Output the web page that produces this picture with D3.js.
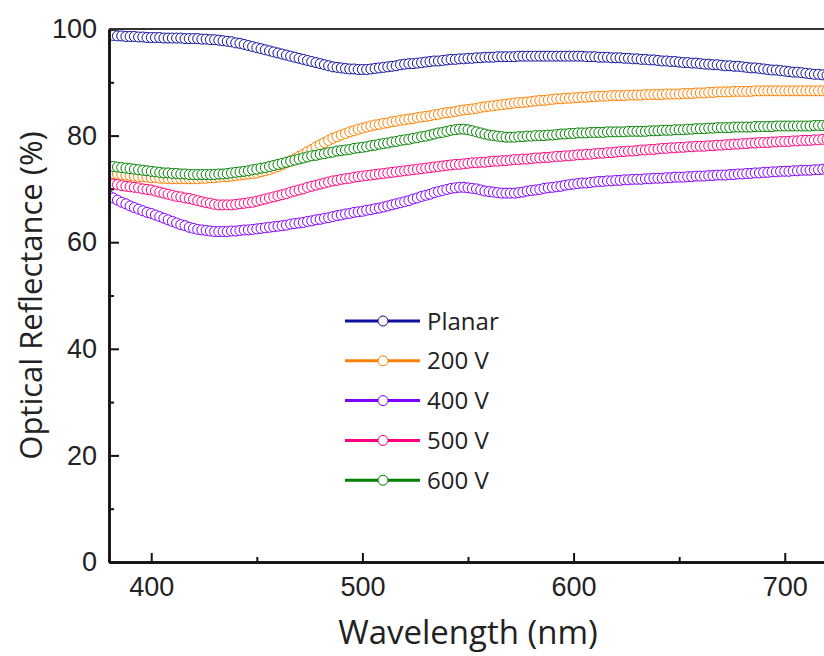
<!DOCTYPE html>
<html>
<head>
<meta charset="utf-8" />
<title>Optical Reflectance</title>
<style>
    body { margin: 0; background: #fff; }
    svg { display: block; font-family: "Open Sans", "Noto Sans", sans-serif; }
    .axis path, .axis line { stroke: #111; }
    .axis text { font-size: 27px; fill: #222; }
    .series path { fill: none; stroke-width: 1.5px; }
</style>
</head>
<body>
<div id="container"></div>
<script src="https://cdn.jsdelivr.net/npm/d3@7/dist/d3.min.js"></script>
<script>
// wavelengths: 380..720 nm every 2 nm
var wavelength = d3.range(380, 721, 2);

var planar = [
    98.8, 98.8, 98.7, 98.7, 98.6, 98.6, 98.6, 98.5, 98.5, 98.4,
    98.4, 98.4, 98.4, 98.3, 98.3, 98.3, 98.3, 98.3, 98.2, 98.2,
    98.2, 98.2, 98.1, 98.1, 98.0, 98.0, 97.9, 97.8, 97.7, 97.6,
    97.4, 97.3, 97.1, 96.9, 96.7, 96.5, 96.3, 96.1, 95.9, 95.7,
    95.5, 95.3, 95.1, 94.9, 94.7, 94.5, 94.3, 94.1, 93.9, 93.7,
    93.5, 93.3, 93.1, 92.9, 92.8, 92.7, 92.6, 92.5, 92.5, 92.4,
    92.4, 92.4, 92.5, 92.6, 92.7, 92.8, 92.9, 93.0, 93.1, 93.3,
    93.4, 93.5, 93.5, 93.6, 93.7, 93.8, 93.9, 94.0, 94.0, 94.1,
    94.2, 94.3, 94.3, 94.4, 94.4, 94.5, 94.5, 94.6, 94.6, 94.7,
    94.7, 94.7, 94.8, 94.8, 94.8, 94.8, 94.8, 94.9, 94.9, 94.9,
    94.9, 94.9, 94.9, 94.9, 94.9, 94.9, 94.9, 94.9, 94.9, 94.9,
    94.9, 94.9, 94.9, 94.8, 94.8, 94.8, 94.7, 94.7, 94.7, 94.6,
    94.6, 94.6, 94.5, 94.5, 94.4, 94.4, 94.3, 94.3, 94.2, 94.2,
    94.1, 94.0, 94.0, 93.9, 93.9, 93.8, 93.7, 93.7, 93.6, 93.6,
    93.5, 93.4, 93.4, 93.3, 93.3, 93.2, 93.1, 93.1, 93.0, 93.0,
    92.9, 92.8, 92.7, 92.7, 92.6, 92.5, 92.4, 92.3, 92.3, 92.2,
    92.1, 92.0, 91.9, 91.9, 91.8, 91.7, 91.6, 91.5, 91.5, 91.4,
    91.3
];

var v200 = [
    73.0, 72.9, 72.8, 72.7, 72.6, 72.5, 72.4, 72.3, 72.3, 72.2,
    72.1, 72.1, 72.0, 72.0, 71.9, 71.9, 71.9, 71.9, 71.9, 71.9,
    71.9, 71.9, 72.0, 72.0, 72.1, 72.1, 72.2, 72.3, 72.3, 72.4,
    72.5, 72.6, 72.7, 72.8, 72.9, 73.0, 73.2, 73.4, 73.6, 73.9,
    74.2, 74.5, 74.9, 75.3, 75.7, 76.1, 76.5, 77.0, 77.4, 77.9,
    78.3, 78.7, 79.1, 79.5, 79.8, 80.1, 80.4, 80.7, 80.9, 81.2,
    81.4, 81.6, 81.8, 82.0, 82.1, 82.3, 82.4, 82.6, 82.7, 82.9,
    83.0, 83.1, 83.2, 83.4, 83.5, 83.6, 83.7, 83.9, 84.0, 84.2,
    84.3, 84.4, 84.5, 84.7, 84.8, 84.9, 85.0, 85.1, 85.3, 85.4,
    85.5, 85.6, 85.7, 85.8, 85.9, 86.0, 86.1, 86.2, 86.2, 86.3,
    86.4, 86.5, 86.6, 86.6, 86.7, 86.8, 86.9, 86.9, 87.0, 87.0,
    87.1, 87.1, 87.2, 87.2, 87.3, 87.3, 87.4, 87.4, 87.4, 87.5,
    87.5, 87.5, 87.5, 87.6, 87.6, 87.6, 87.6, 87.7, 87.7, 87.7,
    87.7, 87.7, 87.8, 87.8, 87.8, 87.8, 87.9, 87.9, 87.9, 88.0,
    88.0, 88.0, 88.1, 88.1, 88.2, 88.2, 88.2, 88.2, 88.3, 88.3,
    88.3, 88.3, 88.3, 88.4, 88.4, 88.4, 88.4, 88.4, 88.4, 88.4,
    88.4, 88.4, 88.4, 88.4, 88.4, 88.4, 88.4, 88.4, 88.4, 88.4,
    88.4
];

var v400 = [
    68.7, 68.3, 67.9, 67.5, 67.2, 66.8, 66.5, 66.2, 65.9, 65.6,
    65.4, 65.1, 64.8, 64.5, 64.2, 63.9, 63.6, 63.3, 63.1, 62.8,
    62.6, 62.4, 62.3, 62.2, 62.1, 62.0, 62.0, 62.0, 62.0, 62.1,
    62.1, 62.2, 62.3, 62.3, 62.4, 62.5, 62.6, 62.7, 62.8, 62.9,
    63.0, 63.1, 63.2, 63.4, 63.5, 63.6, 63.7, 63.9, 64.0, 64.2,
    64.3, 64.5, 64.6, 64.8, 65.0, 65.1, 65.3, 65.4, 65.6, 65.7,
    65.8, 66.0, 66.1, 66.3, 66.4, 66.6, 66.8, 67.0, 67.2, 67.4,
    67.6, 67.8, 68.1, 68.3, 68.6, 68.8, 69.0, 69.3, 69.5, 69.7,
    69.9, 70.1, 70.2, 70.3, 70.3, 70.2, 70.1, 70.0, 69.8, 69.6,
    69.5, 69.4, 69.3, 69.2, 69.2, 69.2, 69.2, 69.3, 69.4, 69.6,
    69.7, 69.8, 69.9, 70.1, 70.2, 70.3, 70.4, 70.5, 70.7, 70.8,
    70.9, 71.0, 71.1, 71.1, 71.2, 71.3, 71.4, 71.4, 71.5, 71.5,
    71.6, 71.6, 71.7, 71.7, 71.8, 71.8, 71.8, 71.9, 71.9, 72.0,
    72.0, 72.0, 72.1, 72.1, 72.2, 72.2, 72.2, 72.3, 72.3, 72.4,
    72.4, 72.4, 72.5, 72.5, 72.6, 72.6, 72.6, 72.7, 72.7, 72.8,
    72.8, 72.9, 72.9, 73.0, 73.0, 73.1, 73.1, 73.2, 73.2, 73.3,
    73.3, 73.3, 73.4, 73.4, 73.5, 73.5, 73.5, 73.6, 73.6, 73.7,
    73.7
];

var v500 = [
    71.0, 70.9, 70.8, 70.6, 70.5, 70.4, 70.3, 70.2, 70.0, 69.9,
    69.8, 69.6, 69.4, 69.2, 69.0, 68.8, 68.6, 68.5, 68.3, 68.2,
    68.0, 67.8, 67.6, 67.4, 67.3, 67.1, 67.0, 67.0, 67.0, 67.0,
    67.1, 67.2, 67.3, 67.4, 67.5, 67.7, 67.9, 68.1, 68.3, 68.5,
    68.7, 68.9, 69.1, 69.4, 69.6, 69.8, 70.0, 70.3, 70.5, 70.7,
    70.9, 71.1, 71.3, 71.5, 71.6, 71.8, 71.9, 72.0, 72.2, 72.3,
    72.4, 72.5, 72.6, 72.7, 72.8, 72.9, 73.0, 73.1, 73.2, 73.3,
    73.4, 73.5, 73.6, 73.7, 73.8, 73.9, 74.0, 74.1, 74.2, 74.3,
    74.4, 74.5, 74.6, 74.6, 74.7, 74.8, 74.9, 74.9, 75.0, 75.0,
    75.1, 75.2, 75.2, 75.3, 75.3, 75.4, 75.5, 75.5, 75.6, 75.6,
    75.7, 75.8, 75.8, 75.9, 75.9, 76.0, 76.1, 76.1, 76.2, 76.2,
    76.3, 76.4, 76.4, 76.5, 76.5, 76.6, 76.7, 76.7, 76.8, 76.8,
    76.9, 77.0, 77.0, 77.1, 77.1, 77.2, 77.3, 77.3, 77.4, 77.4,
    77.5, 77.6, 77.6, 77.7, 77.7, 77.8, 77.8, 77.9, 77.9, 78.0,
    78.0, 78.0, 78.1, 78.1, 78.2, 78.2, 78.3, 78.3, 78.4, 78.4,
    78.5, 78.5, 78.6, 78.6, 78.7, 78.7, 78.7, 78.8, 78.8, 78.9,
    78.9, 78.9, 79.0, 79.0, 79.1, 79.1, 79.1, 79.2, 79.2, 79.3,
    79.3
];

var v600 = [
    74.3, 74.2, 74.1, 74.0, 73.9, 73.8, 73.7, 73.6, 73.5, 73.4,
    73.3, 73.2, 73.1, 73.0, 73.0, 72.9, 72.9, 72.8, 72.8, 72.7,
    72.7, 72.7, 72.7, 72.7, 72.7, 72.7, 72.8, 72.8, 72.9, 73.0,
    73.1, 73.2, 73.3, 73.4, 73.6, 73.7, 73.9, 74.0, 74.2, 74.4,
    74.6, 74.8, 75.0, 75.2, 75.4, 75.6, 75.8, 76.0, 76.2, 76.3,
    76.5, 76.6, 76.8, 76.9, 77.1, 77.2, 77.3, 77.4, 77.6, 77.7,
    77.8, 77.9, 78.1, 78.2, 78.4, 78.5, 78.6, 78.8, 78.9, 79.1,
    79.2, 79.3, 79.5, 79.6, 79.8, 79.9, 80.1, 80.3, 80.5, 80.6,
    80.8, 81.0, 81.1, 81.2, 81.2, 81.1, 80.9, 80.7, 80.5, 80.3,
    80.1, 80.0, 79.9, 79.8, 79.7, 79.7, 79.7, 79.8, 79.8, 79.9,
    79.9, 80.0, 80.0, 80.0, 80.1, 80.1, 80.2, 80.3, 80.3, 80.4,
    80.4, 80.5, 80.5, 80.5, 80.6, 80.6, 80.6, 80.6, 80.7, 80.7,
    80.7, 80.7, 80.7, 80.8, 80.8, 80.8, 80.8, 80.8, 80.9, 80.9,
    80.9, 81.0, 81.0, 81.0, 81.1, 81.1, 81.1, 81.2, 81.2, 81.3,
    81.3, 81.3, 81.4, 81.4, 81.5, 81.5, 81.5, 81.5, 81.6, 81.6,
    81.6, 81.6, 81.6, 81.7, 81.7, 81.7, 81.7, 81.7, 81.8, 81.8,
    81.8, 81.8, 81.8, 81.8, 81.8, 81.8, 81.8, 81.9, 81.9, 81.9,
    81.9
];

var seriesNames = ["Planar", "200 V", "400 V", "500 V", "600 V"];
var seriesColors = ["#10109c", "#ff8000", "#8000ff", "#ff0080", "#008000"];
var seriesValues = [planar, v200, v400, v500, v600];

var xMajor = [400, 500, 600, 700],
    xMinor = [450, 550, 650],
    yMajor = [0, 20, 40, 60, 80, 100],
    yMinor = [10, 30, 50, 70, 90];

var width = 824,
    height = 656,
    margin = { left: 109, top: 29, right: -3, bottom: 94 },
    g_width = width - margin.left - margin.right,
    g_height = height - margin.top - margin.bottom;

var svg = d3.select("#container")
    .append("svg")
    .attr("width", width)
    .attr("height", height);

var scale_x = d3.scaleLinear()
    .domain([380, 720])
    .range([0, g_width]);
var scale_y = d3.scaleLinear()
    .domain([0, 100])
    .range([g_height, 0]);

var g = svg.append("g")
    .attr("transform", "translate(" + margin.left + "," + margin.top + ")");

g.append("clipPath")
    .attr("id", "plot-clip")
    .append("rect")
    .attr("x", 0)
    .attr("y", -6)
    .attr("width", g_width)
    .attr("height", g_height + 6);

var line_generator = d3.line()
    .x(function(d, i) { return scale_x(wavelength[i]); })
    .y(function(d) { return scale_y(d); });

var plot = g.append("g").attr("clip-path", "url(#plot-clip)");

seriesValues.forEach(function(vals, k) {
    var s = plot.append("g").attr("class", "series");
    s.append("path")
        .attr("d", line_generator(vals))
        .attr("stroke", seriesColors[k]);
    s.selectAll("circle")
        .data(vals)
        .enter()
        .append("circle")
        .attr("cx", function(d, i) { return scale_x(wavelength[i]); })
        .attr("cy", function(d) { return scale_y(d); })
        .attr("r", 5)
        .attr("fill", "#fff")
        .attr("stroke", seriesColors[k])
        .attr("stroke-width", 1);
});

// axes (ticks point inward)
var x_axis = d3.axisBottom(scale_x).tickValues(xMajor).tickSize(-9).tickSizeOuter(0).tickPadding(15);
var x_minor = d3.axisBottom(scale_x).tickValues(xMinor).tickSize(-5).tickSizeOuter(0).tickFormat("");
var y_axis = d3.axisLeft(scale_y).tickValues(yMajor).tickSize(-10).tickSizeOuter(0).tickPadding(12);
var y_minor = d3.axisLeft(scale_y).tickValues(yMinor).tickSize(-5).tickSizeOuter(0).tickFormat("");

g.append("g").attr("class", "axis")
    .attr("transform", "translate(0," + g_height + ")")
    .call(x_minor);
g.append("g").attr("class", "axis")
    .attr("transform", "translate(0," + g_height + ")")
    .call(x_axis);
g.append("g").attr("class", "axis").call(y_minor);
g.append("g").attr("class", "axis").call(y_axis);

g.selectAll(".axis line").attr("stroke-width", 2);
g.selectAll(".axis path").attr("stroke-width", 2.5);

// top frame
g.append("line")
    .attr("x1", 0).attr("x2", g_width)
    .attr("y1", 0).attr("y2", 0)
    .attr("stroke", "#333")
    .attr("stroke-width", 2);

// axis titles
svg.append("text")
    .attr("x", 468)
    .attr("y", 644)
    .attr("text-anchor", "middle")
    .attr("font-size", "33px")
    .attr("fill", "#222")
    .text("Wavelength (nm)");

svg.append("text")
    .attr("transform", "translate(42," + (margin.top + scale_y(50)) + ") rotate(-90)")
    .attr("text-anchor", "middle")
    .attr("font-size", "31px")
    .attr("fill", "#222")
    .text("Optical Reflectance (%)");

// legend
var legend = svg.append("g").attr("transform", "translate(345,321)");
seriesNames.forEach(function(name, k) {
    var row = legend.append("g").attr("transform", "translate(0," + (k * 39.8) + ")");
    row.append("line")
        .attr("x1", 0).attr("x2", 75)
        .attr("stroke", seriesColors[k])
        .attr("stroke-width", 3);
    row.append("circle")
        .attr("cx", 38).attr("r", 5)
        .attr("fill", "#fff")
        .attr("stroke", seriesColors[k])
        .attr("stroke-width", 1);
    row.append("text")
        .attr("x", 82)
        .attr("dy", "0.36em")
        .attr("font-size", "24px")
        .attr("fill", "#222")
        .text(name);
});
</script>
</body>
</html>
